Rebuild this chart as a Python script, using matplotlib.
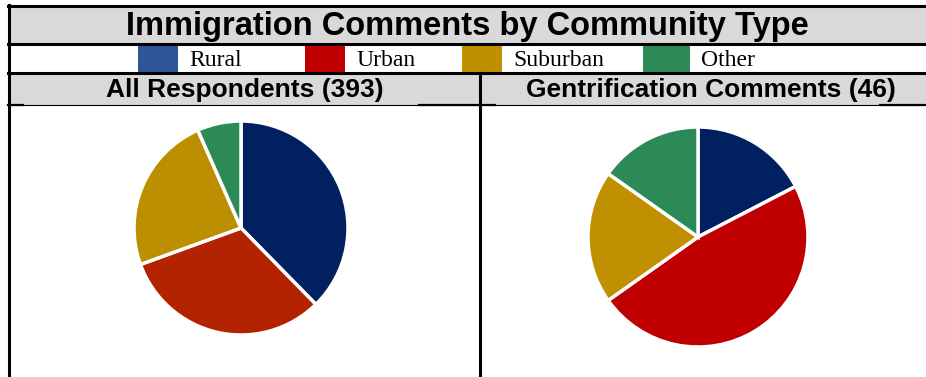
import matplotlib.pyplot as plt
from matplotlib.patches import Rectangle

# Community type legend
categories = ["Rural", "Urban", "Suburban", "Other"]
legend_colors = ["#2F5597", "#C00000", "#BF8F00", "#2E8B57"]

# Counts per community type
all_counts = [148, 125, 94, 26]     # All Respondents (393)
gent_counts = [8, 22, 9, 7]         # Gentrification Comments (46)
all_colors = ["#002060", "#B42300", "#BB8F00", "#2B8A55"]
gent_colors = ["#002060", "#C00000", "#C09000", "#2B8A55"]

title = "Immigration Comments by Community Type"
panel_titles = [f"All Respondents ({sum(all_counts)})",
                f"Gentrification Comments ({sum(gent_counts)})"]

W, H = 926, 377
fig = plt.figure(figsize=(W / 100, H / 100), dpi=100)
fig.patch.set_facecolor("white")

# background axes in pixel coordinates
bg = fig.add_axes([0, 0, 1, 1])
bg.set_xlim(0, W)
bg.set_ylim(H, 0)
bg.axis("off")

gray = "#D9D9D9"
bg.add_patch(Rectangle((9, 6), W - 9, 37.5, color=gray, lw=0))
bg.add_patch(Rectangle((9, 73), W - 9, 32, color=gray, lw=0))

# frame lines
bg.plot([8, W], [6, 6], color="black", lw=2.2)
bg.plot([8, W], [43.5, 43.5], color="black", lw=2.2)
bg.plot([8, W], [73, 73], color="black", lw=2.2)
bg.plot([9, 9], [5, H], color="black", lw=2.2)
bg.plot([480, 480], [73, H], color="black", lw=2.2)
bg.plot([8, W], [105, 105], color="black", lw=0.8)
for x0, x1 in [(8, 23), (419, 495), (880, W)]:
    bg.plot([x0, x1], [105, 105], color="black", lw=1.6)

bg.text(467, 26.5, title, ha="center", va="center", fontsize=23.5,
        fontweight="bold", family="Liberation Sans")

# legend row
patch_x = [138, 305, 462, 643]
patch_w = [40, 40, 40, 47]
for x, w, c, lab in zip(patch_x, patch_w, legend_colors, categories):
    bg.add_patch(Rectangle((x, 44.5), w, 28, color=c, lw=0))
    bg.text(x + w + 11, 60, lab, ha="left", va="center", fontsize=17,
            family="Liberation Serif")

for cx, lab in zip([245, 711], panel_titles):
    bg.text(cx, 90, lab, ha="center", va="center", fontsize=19,
            fontweight="bold", family="Liberation Sans")


def add_pie(cx, cy, r, values, colors):
    ax = fig.add_axes([(cx - r) / W, 1 - (cy + r) / H, 2 * r / W, 2 * r / H])
    wedges, _ = ax.pie(values, colors=colors, startangle=90, counterclock=False,
                       wedgeprops=dict(edgecolor="white", linewidth=2.5))
    for w in wedges:
        w.set_clip_on(False)
    ax.set_xlim(-1, 1)
    ax.set_ylim(-1, 1)
    ax.set_aspect("equal")
    ax.axis("off")


add_pie(241, 228, 107, all_counts, all_colors)
add_pie(698, 237, 110, gent_counts, gent_colors)

fig.savefig("out.png", dpi=100)
